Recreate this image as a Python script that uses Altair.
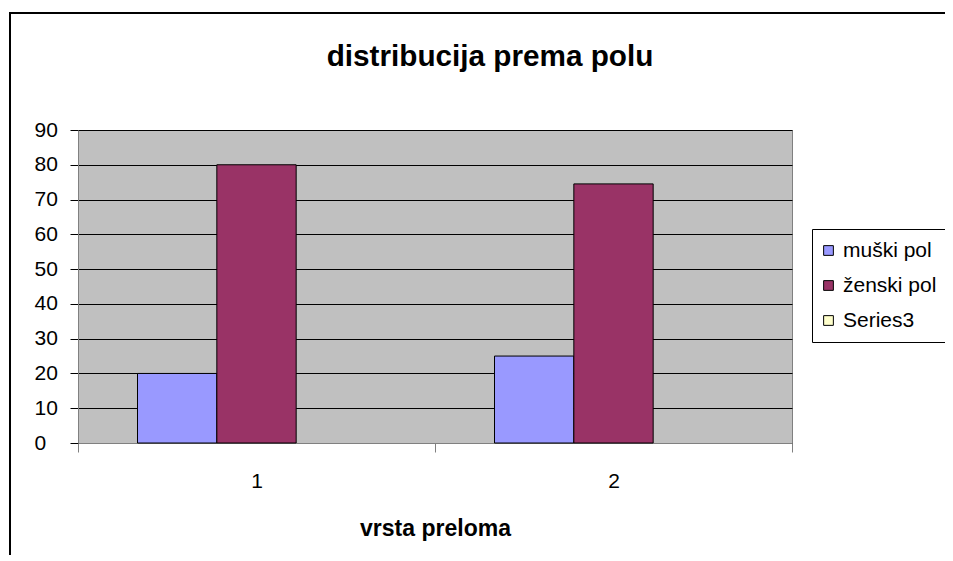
import altair as alt
import pandas as pd

# ---- data ----
categories = ["1", "2"]
series_names = ["muški pol", "ženski pol", "Series3"]
muski_pol = [20, 25]
zenski_pol = [80, 74.5]
series_colors = ["#9999FF", "#993366", "#FFFFCC"]
y_ticks = [0, 10, 20, 30, 40, 50, 60, 70, 80, 90]

rows = []
for c, v in zip(categories, muski_pol):
    rows.append({"kategorija": c, "serija": series_names[0], "vrednost": v})
for c, v in zip(categories, zenski_pol):
    rows.append({"kategorija": c, "serija": series_names[1], "vrednost": v})
df = pd.DataFrame(rows)

FONT = "Liberation Sans"

bars = alt.Chart(df).mark_bar(stroke="black", strokeWidth=1, opacity=1).encode(
    x=alt.X(
        "kategorija:N",
        sort=categories,
        scale=alt.Scale(paddingInner=0, paddingOuter=0),
        axis=alt.Axis(
            title="vrsta preloma",
            labelAngle=0,
            tickBand="extent",
            tickSize=9,
            tickColor="#808080",
            domainColor="#808080",
            labelFont=FONT,
            labelFontSize=21,
            labelColor="black",
            labelPadding=18,
            titleFont=FONT,
            titleFontSize=23,
            titleFontWeight="bold",
            titleColor="black",
            titlePadding=26,
            grid=False,
        ),
    ),
    xOffset=alt.XOffset(
        "serija:N",
        sort=series_names,
        scale=alt.Scale(domain=series_names, paddingInner=0, paddingOuter=0.75),
    ),
    y=alt.Y(
        "vrednost:Q",
        scale=alt.Scale(domain=[0, 90], nice=False),
        axis=alt.Axis(
            values=y_ticks,
            title=None,
            grid=True,
            gridColor="black",
            gridOpacity=1,
            gridWidth=1,
            tickSize=8,
            tickColor="black",
            domainColor="#808080",
            labelFont=FONT,
            labelFontSize=21,
            labelColor="black",
            labelAlign="left",
            labelPadding=36,
        ),
    ),
    color=alt.Color(
        "serija:N",
        scale=alt.Scale(domain=series_names, range=series_colors),
        legend=alt.Legend(
            title=None,
            orient="none",
            legendX=734,
            legendY=99,
            padding=11,
            strokeColor="black",
            fillColor="white",
            symbolType="square",
            symbolSize=95,
            symbolStrokeColor="black",
            symbolStrokeWidth=1,
            symbolOpacity=1,
            symbolOffset=-5,
            labelFont=FONT,
            labelFontSize=21,
            labelColor="black",
            labelOffset=4,
            rowPadding=13,
        ),
    ),
)

frame_df = pd.DataFrame({"d": [0]})
top_border = alt.Chart(frame_df).mark_rule(color="black", strokeWidth=2).encode(
    x=alt.value(-69), x2=alt.value(1000), y=alt.value(-117)
)
left_border = alt.Chart(frame_df).mark_rule(color="black", strokeWidth=2).encode(
    x=alt.value(-68), y=alt.value(-118), y2=alt.value(600)
)

chart = alt.layer(bars, top_border, left_border).properties(
    width=714,
    height=313,
    title=alt.TitleParams(
        "distribucija prema polu",
        font=FONT,
        fontSize=29.7,
        fontWeight="bold",
        color="black",
        anchor="middle",
        dx=55,
        dy=102,
        offset=40,
    ),
    autosize=alt.AutoSizeParams(type="none"),
    padding={"left": 70, "top": 122, "right": 153, "bottom": 112},
    background="white",
).configure_view(
    fill="#C0C0C0", stroke="#808080", strokeWidth=1
)

chart.save("out.html", embed_options={"renderer": "svg", "actions": False})
